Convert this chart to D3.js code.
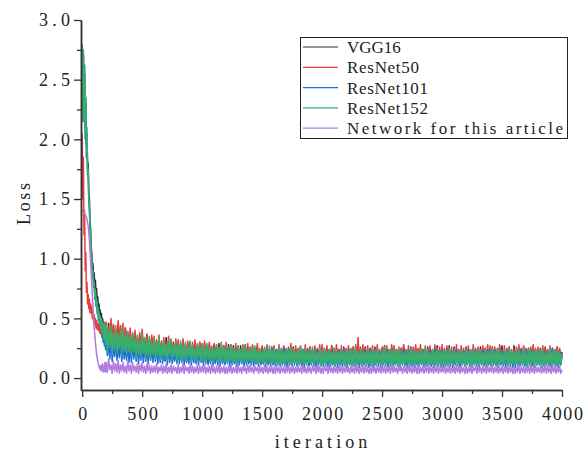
<!DOCTYPE html>
<html>
<head>
<meta charset="utf-8">
<script src="https://cdn.jsdelivr.net/npm/d3@7/dist/d3.min.js"></script>
<style>
  html, body { margin: 0; padding: 0; background: #fff; }
  svg { display: block; }
  text { font-family: "Liberation Serif", "DejaVu Serif", serif; fill: #222; }
</style>
</head>
<body>
<svg id="chart" width="588" height="452"></svg>
<script>
// Training iterations: fine sampling during the initial drop, every 10 afterwards
const iterations = d3.range(0, 200, 5).concat(d3.range(200, 4001, 10));

const seriesNames = ["VGG16", "ResNet50", "ResNet101", "ResNet152", "Network for this article"];
const seriesColors = ["#2e2e2e", "#f03a3a", "#1d6fe0", "#38b06c", "#b27be0"];

const xTicks = [0, 500, 1000, 1500, 2000, 2500, 3000, 3500, 4000];
const xMinorTicks = [250, 750, 1250, 1750, 2250, 2750, 3250, 3750];
const yTicks = [0, 0.5, 1.0, 1.5, 2.0, 2.5, 3.0];
const yMinorTicks = [0.25, 0.75, 1.25, 1.75, 2.25, 2.75];

const lossVGG16 = [
  2.75,2.3,2.7,2.25,2.55,2.1,2.3,1.95,2.05,1.75,
  1.8,1.55,1.5,1.3,1.25,1.1,1.05,0.92,0.96,0.84,
  0.88,0.76,0.82,0.7,0.75,0.64,0.68,0.58,0.62,0.54,
  0.57,0.5,0.54,0.46,0.5,0.42,0.47,0.38,0.45,0.36,
  .43,.23,.46,.21,.39,.26,.44,.22,.4,.24,.45,.2,.41,.25,.38,.22,.42,.19,.37,.23,
  .36,.19,.34,.22,.37,.18,.32,.21,.35,.17,.38,.2,.33,.18,.36,.21,.31,.17,.34,.19,
  .33,.17,.3,.18,.32,.16,.29,.19,.31,.15,.34,.17,.28,.16,.32,.18,.3,.15,.29,.17,
  .3,.16,.28,.15,.31,.17,.27,.14,.29,.16,.3,.15,.27,.17,.29,.14,.26,.16,.3,.15,
  .27,.14,.29,.16,.26,.13,.28,.15,.25,.14,.28,.13,.26,.15,.29,.14,.25,.13,.27,.15,
  .26,.15,.28,.13,.25,.14,.27,.12,.26,.14,.24,.13,.27,.15,.25,.12,.28,.14,.24,.13,
  .25,.13,.26,.14,.24,.12,.27,.13,.23,.14,.26,.12,.24,.13,.25,.14,.23,.12,.26,.13,
  .26,.12,.24,.13,.25,.14,.23,.12,.26,.13,.24,.11,.25,.13,.23,.12,.26,.14,.24,.12,
  .24,.13,.26,.11,.23,.12,.25,.13,.24,.11,.26,.12,.23,.13,.25,.11,.24,.12,.22,.13,
  .26,.12,.23,.13,.25,.11,.24,.12,.27,.13,.23,.11,.25,.12,.24,.13,.22,.11,.26,.12,
  .23,.11,.25,.12,.24,.13,.26,.11,.23,.12,.25,.13,.24,.11,.22,.12,.26,.13,.23,.11,
  .25,.13,.23,.11,.26,.12,.24,.13,.22,.11,.25,.12,.27,.13,.23,.11,.24,.12,.25,.13,
  .26,.12,.24,.13,.22,.11,.25,.12,.27,.13,.23,.11,.24,.12,.26,.13,.22,.11,.25,.12,
  .23,.11,.25,.12,.24,.13,.22,.11,.26,.12,.24,.13,.23,.11,.25,.12,.27,.13,.23,.11,
  .24,.13,.22,.11,.25,.12,.27,.13,.23,.11,.26,.12,.24,.13,.22,.11,.25,.12,.23,.13,
  .26,.12,.24,.13,.22,.11,.25,.12,.24,.13,.23,.11,.26,.12,.24,.13,.25,.11,.23,.12,
  .23,.11,.26,.12,.24,.13,.22,.11,.25,.12,.27,.13,.23,.11,.24,.12,.26,.13,.22,.11,
  .27,.13,.23,.11,.25,.12,.24,.13,.26,.11,.23,.12,.25,.13,.24,.11,.26,.12,.23,.13,
  .24,.12,.25,.13,.23,.11,.26,.12,.24,.13,.22,.11,.25,.12,.23,.13,.26,.11,.24,.12,
  .22
];

const lossResNet50 = [
  2.05,1.5,1.85,1.2,1.4,0.9,1.05,0.72,0.8,0.62,
  0.7,0.58,0.66,0.55,0.62,0.54,0.6,0.5,0.56,0.48,
  0.53,0.45,0.5,0.42,0.48,0.41,0.46,0.4,0.45,0.38,
  0.46,0.37,0.44,0.36,0.47,0.35,0.45,0.34,0.46,0.33,
  .47,.31,.43,.36,.5,.29,.45,.34,.41,.28,.48,.33,.44,.3,.46,.27,.42,.32,.39,.26,
  .42,.24,.37,.27,.4,.22,.35,.25,.38,.21,.41,.24,.34,.2,.37,.23,.33,.21,.36,.19,
  .35,.2,.32,.23,.36,.18,.31,.21,.34,.19,.3,.22,.35,.18,.32,.2,.29,.17,.33,.19,
  .32,.18,.29,.17,.33,.19,.28,.16,.31,.18,.27,.17,.3,.16,.32,.18,.28,.15,.3,.17,
  .29,.16,.31,.15,.27,.17,.3,.14,.26,.16,.29,.15,.28,.17,.25,.14,.3,.16,.27,.15,
  .3,.14,.26,.16,.28,.15,.25,.14,.29,.13,.27,.15,.24,.14,.28,.16,.26,.13,.29,.15,
  .26,.15,.28,.13,.25,.14,.29,.15,.24,.13,.27,.14,.25,.15,.28,.13,.24,.14,.26,.15,
  .27,.13,.24,.15,.28,.14,.25,.13,.27,.15,.24,.14,.26,.13,.29,.15,.25,.14,.27,.13,
  .25,.14,.27,.13,.24,.15,.28,.14,.25,.13,.26,.15,.24,.14,.27,.13,.25,.15,.28,.14,
  .28,.15,.25,.13,.27,.14,.24,.15,.26,.13,.25,.14,.28,.15,.24,.13,.27,.14,.25,.15,
  .25,.13,.27,.15,.24,.14,.26,.13,.28,.15,.34,.14,.26,.13,.28,.15,.25,.14,.27,.13,
  .24,.14,.27,.13,.25,.15,.28,.14,.24,.13,.26,.15,.25,.14,.27,.13,.24,.15,.28,.14,
  .27,.15,.24,.14,.26,.13,.25,.15,.28,.14,.24,.13,.27,.15,.25,.14,.26,.13,.28,.15,
  .25,.13,.28,.15,.24,.14,.26,.13,.25,.15,.27,.14,.24,.13,.28,.15,.25,.14,.26,.13,
  .28,.14,.25,.13,.27,.15,.24,.14,.26,.13,.25,.15,.28,.14,.24,.13,.27,.15,.25,.14,
  .25,.15,.27,.13,.24,.14,.28,.15,.25,.13,.26,.14,.24,.15,.27,.13,.25,.14,.28,.15,
  .27,.14,.24,.15,.26,.13,.25,.14,.28,.15,.24,.13,.27,.14,.25,.15,.26,.13,.24,.14,
  .24,.13,.26,.15,.28,.14,.25,.13,.27,.14,.25,.15,.24,.13,.26,.14,.28,.15,.25,.13,
  .26,.15,.24,.13,.27,.14,.25,.15,.24,.14,.27,.13,.25,.15,.24,.14,.26,.13,.25,.15,
  .21
];

const lossResNet101 = [
  2.7,2.25,2.72,2.15,2.62,2.0,2.35,1.85,2.05,1.7,
  1.72,1.48,1.42,1.22,1.18,1.02,0.98,0.84,0.88,0.76,
  0.78,0.66,0.7,0.6,0.64,0.54,0.58,0.48,0.52,0.44,
  0.48,0.4,0.44,0.34,0.4,0.3,0.36,0.27,0.34,0.24,
  .33,.19,.29,.16,.32,.14,.27,.18,.3,.15,.26,.17,.31,.14,.28,.16,.25,.15,.29,.13,
  .28,.13,.3,.16,.26,.14,.29,.12,.27,.15,.25,.13,.28,.14,.26,.12,.29,.15,.24,.13,
  .26,.14,.28,.12,.25,.13,.27,.12,.24,.14,.26,.11,.28,.13,.25,.12,.23,.14,.27,.12,
  .27,.12,.24,.13,.26,.11,.25,.13,.23,.12,.26,.11,.24,.13,.22,.12,.25,.11,.24,.13,
  .25,.11,.23,.12,.26,.11,.22,.12,.24,.1,.23,.12,.25,.11,.22,.1,.24,.12,.23,.11,
  .23,.12,.25,.1,.22,.11,.24,.12,.23,.1,.25,.11,.22,.12,.24,.1,.21,.11,.23,.12,
  .24,.11,.22,.1,.23,.12,.21,.1,.24,.11,.22,.12,.23,.1,.25,.11,.22,.1,.24,.11,
  .22,.1,.24,.11,.21,.1,.23,.11,.25,.1,.22,.09,.24,.11,.21,.1,.23,.11,.22,.1,
  .23,.11,.21,.1,.24,.09,.22,.11,.23,.1,.21,.11,.24,.1,.22,.09,.23,.11,.21,.1,
  .21,.1,.24,.11,.22,.09,.23,.1,.21,.11,.24,.1,.22,.09,.23,.11,.21,.1,.24,.11,
  .23,.09,.22,.11,.24,.1,.21,.1,.23,.11,.22,.09,.24,.1,.21,.11,.23,.1,.22,.09,
  .22,.1,.24,.09,.21,.11,.23,.1,.22,.09,.24,.11,.21,.1,.23,.09,.22,.11,.24,.1,
  .24,.11,.21,.1,.23,.09,.22,.11,.24,.1,.21,.09,.23,.11,.22,.1,.24,.09,.21,.11,
  .21,.1,.23,.11,.22,.09,.24,.1,.21,.11,.23,.1,.22,.09,.24,.11,.21,.1,.23,.09,
  .23,.09,.22,.1,.24,.11,.21,.1,.23,.09,.22,.11,.24,.1,.21,.09,.23,.11,.22,.1,
  .22,.11,.24,.1,.21,.09,.23,.11,.22,.1,.24,.09,.21,.11,.23,.1,.22,.09,.24,.11,
  .24,.1,.21,.11,.23,.1,.22,.09,.25,.11,.21,.1,.23,.09,.22,.11,.24,.1,.21,.09,
  .21,.09,.23,.11,.22,.1,.24,.11,.21,.1,.23,.09,.22,.11,.24,.1,.21,.09,.23,.11,
  .23,.11,.22,.09,.24,.1,.21,.11,.23,.1,.22,.09,.24,.11,.21,.1,.23,.09,.22,.11,
  .19
];

const lossResNet152 = [
  2.8,2.15,2.75,2.2,2.6,2.05,2.35,1.9,2.1,1.7,
  1.75,1.5,1.45,1.25,1.2,1.05,1.0,0.86,0.9,0.78,
  0.8,0.68,0.74,0.62,0.66,0.56,0.6,0.5,0.56,0.46,
  0.52,0.42,0.5,0.38,0.47,0.35,0.45,0.32,0.44,0.28,
  .45,.22,.41,.26,.43,.2,.38,.24,.44,.21,.37,.25,.4,.19,.42,.23,.36,.2,.39,.22,
  .35,.19,.38,.22,.33,.17,.36,.2,.31,.18,.37,.21,.34,.16,.32,.19,.35,.17,.3,.2,
  .33,.16,.3,.19,.34,.15,.29,.18,.32,.17,.28,.15,.31,.19,.33,.16,.27,.18,.3,.15,
  .29,.17,.31,.14,.27,.16,.3,.15,.26,.18,.31,.14,.28,.16,.25,.15,.29,.17,.27,.14,
  .28,.15,.26,.13,.29,.16,.25,.14,.27,.13,.24,.16,.28,.14,.26,.13,.29,.15,.25,.14,
  .27,.13,.24,.15,.28,.12,.25,.14,.23,.13,.27,.15,.24,.12,.26,.14,.28,.13,.23,.15,
  .26,.12,.24,.14,.27,.13,.23,.12,.25,.14,.22,.13,.26,.12,.24,.14,.27,.12,.23,.13,
  .25,.13,.23,.11,.26,.12,.24,.13,.22,.11,.25,.14,.23,.12,.26,.11,.24,.13,.22,.12,
  .24,.11,.26,.13,.23,.12,.25,.11,.22,.13,.24,.12,.26,.11,.23,.13,.21,.12,.25,.11,
  .23,.12,.25,.1,.22,.13,.24,.11,.21,.12,.25,.1,.23,.12,.22,.11,.24,.13,.22,.1,
  .24,.11,.22,.12,.25,.1,.23,.12,.27,.11,.22,.13,.24,.1,.23,.12,.21,.11,.24,.12,
  .22,.1,.25,.12,.23,.11,.24,.13,.21,.1,.23,.12,.26,.11,.22,.12,.24,.1,.23,.11,
  .25,.12,.22,.11,.24,.1,.23,.12,.21,.11,.24,.13,.22,.1,.25,.12,.23,.11,.22,.12,
  .23,.11,.24,.12,.22,.1,.27,.12,.23,.11,.21,.12,.24,.1,.22,.11,.25,.12,.23,.1,
  .22,.12,.24,.11,.23,.1,.25,.12,.22,.11,.24,.13,.21,.1,.23,.12,.24,.11,.22,.1,
  .24,.11,.22,.12,.23,.1,.25,.11,.22,.12,.24,.1,.23,.12,.21,.11,.24,.1,.22,.12,
  .23,.1,.25,.12,.22,.11,.24,.1,.23,.12,.21,.11,.24,.13,.22,.1,.25,.11,.23,.12,
  .22,.11,.24,.1,.23,.12,.21,.11,.25,.12,.22,.1,.24,.11,.23,.12,.22,.1,.24,.11,
  .23,.12,.22,.1,.24,.11,.21,.12,.23,.1,.25,.11,.22,.12,.24,.1,.23,.11,.22,.12,
  .21
];

const lossProposed = [
  1.4,1.4,1.39,1.39,1.38,1.37,1.36,1.35,1.33,1.3,
  1.27,1.22,1.15,1.07,0.98,0.88,0.78,0.68,0.59,0.5,
  0.42,0.36,0.3,0.25,0.2,0.17,0.14,0.12,0.1,0.08,
  0.1,0.06,0.11,0.07,0.12,0.05,0.1,0.06,0.13,0.05,
  .13,.05,.16,.07,.11,.04,.14,.06,.12,.05,.15,.04,.11,.06,.13,.05,.1,.04,.14,.06,
  .11,.04,.13,.06,.1,.05,.12,.04,.11,.06,.13,.05,.1,.04,.12,.06,.11,.04,.1,.05,
  .1,.05,.12,.04,.09,.06,.11,.04,.1,.05,.12,.04,.09,.05,.11,.04,.1,.06,.09,.04,
  .11,.04,.09,.05,.12,.04,.1,.06,.09,.04,.11,.05,.1,.04,.09,.05,.11,.04,.1,.05,
  .1,.05,.11,.04,.09,.05,.1,.04,.11,.05,.09,.04,.1,.05,.11,.04,.09,.05,.1,.04,
  .09,.04,.1,.05,.11,.04,.09,.05,.1,.04,.11,.05,.09,.04,.1,.06,.09,.04,.11,.05,
  .11,.05,.09,.04,.1,.06,.09,.04,.1,.05,.09,.04,.11,.05,.1,.04,.09,.05,.1,.04,
  .09,.04,.11,.05,.09,.04,.1,.05,.09,.04,.1,.05,.11,.04,.09,.05,.1,.04,.09,.05,
  .1,.05,.09,.04,.11,.05,.09,.04,.1,.05,.09,.04,.1,.06,.09,.04,.11,.05,.1,.04,
  .09,.04,.1,.06,.09,.04,.11,.05,.09,.04,.1,.05,.09,.04,.11,.05,.1,.04,.09,.05,
  .1,.05,.09,.04,.1,.05,.09,.04,.11,.05,.1,.04,.09,.05,.1,.04,.11,.05,.09,.04,
  .09,.04,.11,.05,.09,.04,.1,.05,.09,.04,.11,.05,.1,.04,.09,.05,.1,.04,.11,.05,
  .1,.05,.09,.04,.1,.06,.09,.04,.1,.05,.09,.04,.11,.05,.1,.04,.09,.05,.1,.04,
  .11,.04,.09,.05,.1,.04,.09,.05,.11,.04,.1,.05,.09,.04,.1,.05,.11,.04,.09,.05,
  .09,.05,.1,.04,.09,.05,.11,.04,.09,.05,.1,.04,.11,.05,.09,.04,.1,.05,.09,.04,
  .1,.04,.09,.05,.1,.04,.09,.06,.1,.04,.11,.05,.09,.04,.1,.05,.09,.04,.11,.05,
  .09,.05,.11,.04,.09,.05,.1,.04,.09,.05,.1,.04,.09,.05,.11,.04,.1,.05,.09,.04,
  .1,.04,.09,.05,.11,.04,.09,.05,.1,.04,.09,.05,.1,.04,.11,.05,.09,.04,.1,.05,
  .09,.05,.1,.04,.09,.05,.11,.04,.1,.05,.09,.04,.11,.05,.1,.04,.09,.05,.1,.04,
  .07
];

const seriesValues = [lossVGG16, lossResNet50, lossResNet101, lossResNet152, lossProposed];

const svg = d3.select("#chart");
const plotLeft = 81, plotRight = 562, plotTop = 20, plotBottom = 390;

const x = d3.scaleLinear().domain([-10, 4000]).range([plotLeft, plotRight]);
const y = d3.scaleLinear().domain([-0.1, 3.0]).range([plotBottom, plotTop]);

// Fixed-pitch spacing for labels: widen short strings to an even advance per character
function pitch(sel, charWidth) {
  sel.each(function () {
    const t = d3.select(this);
    const target = t.text().length * charWidth;
    if (target > this.getComputedTextLength()) {
      t.attr("textLength", target).attr("lengthAdjust", "spacing");
    }
  });
}

// Loss curves
const line = d3.line()
  .x((d, i) => x(iterations[i]))
  .y(d => y(d));

const plot = svg.append("g").attr("class", "plot");
seriesValues.forEach((vals, k) => {
  plot.append("path")
    .datum(vals)
    .attr("fill", "none")
    .attr("stroke", seriesColors[k])
    .attr("stroke-width", 1.5)
    .attr("stroke-linejoin", "round")
    .attr("d", line);
});

// Axes
const axisColor = "#333";
const fontSize = 18;

const xAxis = svg.append("g")
  .attr("transform", `translate(0,${plotBottom})`)
  .call(d3.axisBottom(x).tickValues(xTicks).tickSize(7).tickSizeOuter(0).tickPadding(10).tickFormat(d3.format("d")));
const xMinor = svg.append("g")
  .attr("transform", `translate(0,${plotBottom})`)
  .call(d3.axisBottom(x).tickValues(xMinorTicks).tickSize(4).tickSizeOuter(0).tickFormat(""));

const yAxis = svg.append("g")
  .attr("transform", `translate(${plotLeft},0)`)
  .call(d3.axisLeft(y).tickValues(yTicks).tickSize(7).tickSizeOuter(0).tickPadding(4).tickFormat(d3.format(".1f")));
const yMinor = svg.append("g")
  .attr("transform", `translate(${plotLeft},0)`)
  .call(d3.axisLeft(y).tickValues(yMinorTicks).tickSize(4).tickSizeOuter(0).tickFormat(""));

[xAxis, xMinor, yAxis, yMinor].forEach(g => {
  g.selectAll(".domain").attr("stroke", axisColor).attr("stroke-width", 1.5);
  g.selectAll(".tick line").attr("stroke", axisColor).attr("stroke-width", 1.3);
  g.selectAll(".tick text")
    .attr("font-family", "Liberation Serif, DejaVu Serif, serif")
    .attr("font-size", fontSize)
    .attr("fill", "#222")
    .call(pitch, 10.3);
});

// Axis titles
svg.append("text")
  .attr("x", 321)
  .attr("y", 448)
  .attr("text-anchor", "middle")
  .attr("font-size", fontSize)
  .text("iteration")
  .call(pitch, 10.3);

svg.append("text")
  .attr("transform", "translate(30,204) rotate(-90)")
  .attr("text-anchor", "middle")
  .attr("font-size", fontSize)
  .text("Loss")
  .call(pitch, 10.5);

// Legend
const legend = svg.append("g").attr("transform", "translate(300,37)");
legend.append("rect")
  .attr("x", 0.5).attr("y", 0.5)
  .attr("width", 267).attr("height", 101)
  .attr("fill", "#fff")
  .attr("stroke", "#222")
  .attr("stroke-width", 1);

seriesNames.forEach((name, k) => {
  const ly = 10 + k * 20.3;
  legend.append("line")
    .attr("x1", 3).attr("x2", 38)
    .attr("y1", ly).attr("y2", ly)
    .attr("stroke", seriesColors[k])
    .attr("stroke-width", 1.2);
  legend.append("text")
    .attr("x", 47)
    .attr("y", ly)
    .attr("dy", "0.35em")
    .attr("font-size", 17)
    .text(name)
    .call(pitch, 9);
});
</script>
</body>
</html>
